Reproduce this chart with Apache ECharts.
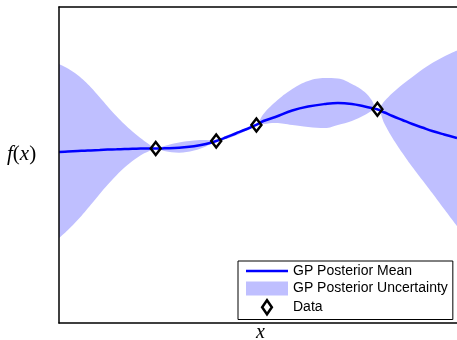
<!DOCTYPE html>
<html>
<head>
<meta charset="utf-8">
<script src="https://cdn.jsdelivr.net/npm/echarts@6/dist/echarts.min.js"></script>
<style>html,body{margin:0;padding:0;background:#fff;}#c{width:457px;height:340px;}</style>
</head>
<body>
<div id="c"></div>
<script>
// Sample positions along x
const xs = [0, 0.224, 0.474, 0.648, 0.798, 1.022, 1.222, 1.446, 1.646, 1.845, 2.045, 2.244, 2.431,
  2.643, 3.017, 3.392, 3.691, 3.953, 4.190, 4.439, 4.688, 4.955,
  5.137, 5.436, 5.860, 6.259, 6.683, 7.007, 7.357, 7.681, 7.855,
  7.993, 8.180, 8.379, 8.628, 8.878, 9.127, 9.377, 9.676, 10];
// GP posterior mean
const meanVals = [5.411, 5.427, 5.443, 5.453, 5.462, 5.475, 5.487, 5.497, 5.506, 5.513, 5.519, 5.522, 5.522,
  5.528, 5.544, 5.592, 5.665, 5.759, 5.870, 5.997, 6.123, 6.266,
  6.392, 6.519, 6.725, 6.851, 6.930, 6.962, 6.930, 6.851, 6.804,
  6.763, 6.661, 6.551, 6.424, 6.297, 6.187, 6.076, 5.965, 5.854];
// Uncertainty band edges
const upperVals = [8.196, 8.054, 7.839, 7.649, 7.459, 7.146, 6.854, 6.541, 6.288, 6.060, 5.858, 5.674, 5.522,
  5.601, 5.712, 5.775, 5.791, 5.759, 5.918, 6.044, 6.155, 6.266,
  6.614, 6.994, 7.405, 7.658, 7.753, 7.737, 7.563, 7.310, 7.057,
  6.763, 7.025, 7.278, 7.547, 7.785, 8.022, 8.228, 8.434, 8.623];
const lowerVals = [2.690, 2.946, 3.269, 3.516, 3.741, 4.082, 4.373, 4.677, 4.918, 5.127, 5.304, 5.430, 5.522,
  5.443, 5.389, 5.459, 5.585, 5.759, 5.823, 5.934, 6.076, 6.266,
  6.297, 6.329, 6.266, 6.203, 6.171, 6.266, 6.392, 6.582, 6.709,
  6.763, 6.297, 5.854, 5.380, 4.937, 4.525, 4.114, 3.608, 3.070];
// Observed data
const dataX = [2.43, 3.95, 4.96, 8.0];
const dataY = [5.522, 5.759, 6.266, 6.763];

const names = ['GP Posterior Mean', 'GP Posterior Uncertainty', 'Data'];
const BAND = '#bfbfff';
const SMOOTH = 0.4;

const upperData = xs.map((x, i) => [x, upperVals[i]]);
const lowerData = xs.map((x, i) => [x, lowerVals[i]]);
const meanData = xs.map((x, i) => [x, meanVals[i]]);
const pts = dataX.map((x, i) => [x, dataY[i]]);

const axisCommon = {
  type: 'value', min: 0, max: 10,
  axisTick: {show: false}, axisLabel: {show: false}, splitLine: {show: false},
  axisLine: {show: true, onZero: false, lineStyle: {color: '#000', width: 1.5}},
  z: 10
};

const chart = echarts.init(document.getElementById('c'), null, {renderer: 'canvas'});
chart.setOption({
  animation: false,
  backgroundColor: '#fff',
  grid: {left: 59, top: 7, right: -3, bottom: 17, containLabel: false},
  xAxis: [
    Object.assign({}, axisCommon, {position: 'bottom'}),
    Object.assign({}, axisCommon, {position: 'top'})
  ],
  yAxis: [Object.assign({}, axisCommon, {position: 'left'})],
  legend: {
    orient: 'vertical', left: 238, top: 261,
    itemWidth: 42, itemHeight: 14, itemGap: 3.5,
    padding: [3, 5, 4, 8],
    borderColor: '#000', borderWidth: 1, backgroundColor: '#fff',
    textStyle: {fontFamily: 'Liberation Sans, Arial, sans-serif', fontSize: 14, color: '#000'},
    data: [
      {name: names[0], icon: 'path://M0,0 L40,0 L40,2.5 L0,2.5 Z', itemStyle: {color: '#0000ff', borderWidth: 0}},
      {name: names[1], icon: 'rect', itemStyle: {color: BAND, borderWidth: 0}},
      {name: names[2], icon: 'path://M4.5,0 L9,6.5 L4.5,13 L0,6.5 Z',
       itemStyle: {color: 'rgba(255,255,255,0)', borderColor: '#000', borderWidth: 2.5}}
    ],
    selectedMode: false
  },
  graphic: [
    {type: 'text', left: 7, top: 144, style: {
      text: '{i|f}{n|(}{i|x}{n|)}', fill: '#000',
      rich: {
        i: {fontFamily: 'Liberation Serif, serif', fontStyle: 'italic', fontSize: 21},
        n: {fontFamily: 'Liberation Serif, serif', fontSize: 21}
      }
    }},
    {type: 'text', left: 256, top: 323, style: {
      text: 'x', fill: '#000', fontFamily: 'Liberation Serif, serif', fontStyle: 'italic', fontSize: 20
    }}
  ],
  series: [
    {name: names[1], type: 'line', data: upperData, symbol: 'none', smooth: SMOOTH,
     lineStyle: {opacity: 0, width: 0}, itemStyle: {color: BAND},
     areaStyle: {color: BAND, opacity: 1, origin: 'start'}, silent: true, z: 1},
    {name: 'bandLowerEdge', type: 'line', data: lowerData, symbol: 'none', smooth: SMOOTH,
     lineStyle: {opacity: 0, width: 0}, itemStyle: {color: '#fff'},
     areaStyle: {color: '#ffffff', opacity: 1, origin: 'start'}, silent: true, z: 1},
    {name: names[0], type: 'line', data: meanData, symbol: 'none', smooth: SMOOTH,
     lineStyle: {color: '#0000ff', width: 2.5}, itemStyle: {color: '#0000ff'}, z: 3},
    {name: names[2], type: 'scatter', data: pts, symbol: 'diamond', symbolSize: [10, 13],
     itemStyle: {color: 'rgba(255,255,255,0)', borderColor: '#000', borderWidth: 2.5, opacity: 1}, z: 4}
  ]
});
</script>
</body>
</html>
